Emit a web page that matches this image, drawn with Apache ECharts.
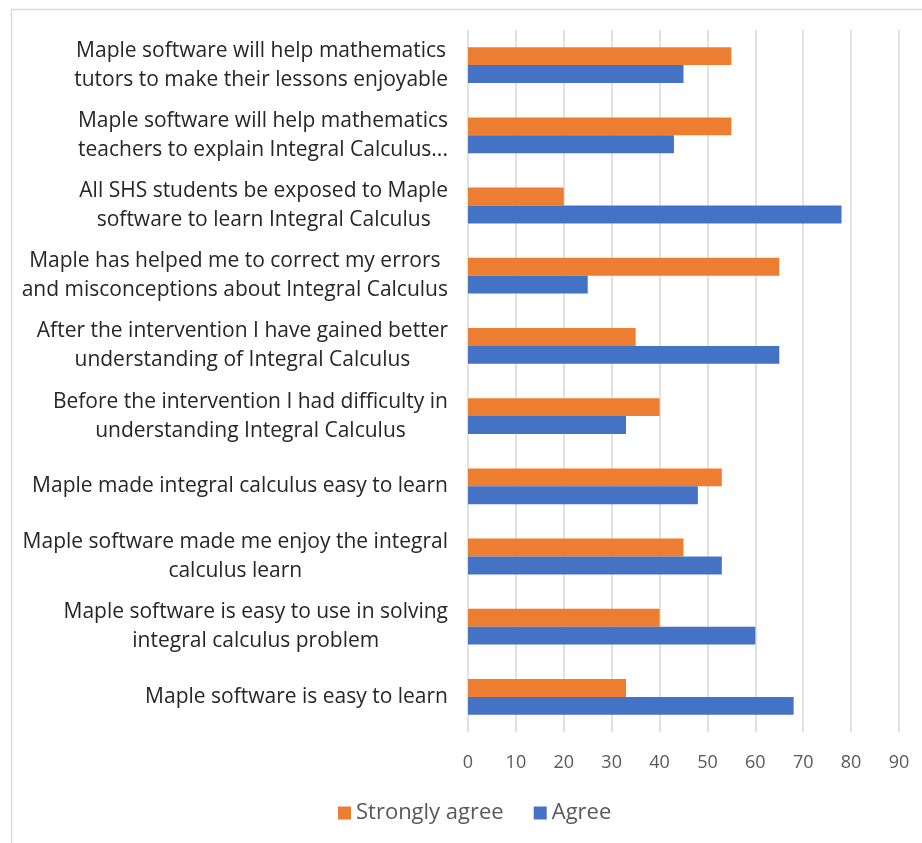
<!DOCTYPE html>
<html>
<head>
<meta charset="utf-8">
<script src="https://cdn.jsdelivr.net/npm/echarts@6/dist/echarts.min.js"></script>
<style>
html,body{margin:0;padding:0;background:#fff;}
#chart{width:922px;height:843px;}
</style>
</head>
<body>
<div id="chart"></div>
<script>
const categories = [
  "Maple software will help mathematics\ntutors to make their lessons enjoyable",
  "Maple software will help mathematics\nteachers to explain Integral Calculus...",
  "All SHS students be exposed to Maple\nsoftware to learn Integral Calculus",
  "Maple has helped me to correct my errors\nand misconceptions about Integral Calculus",
  "After the intervention I have gained better\nunderstanding of Integral Calculus",
  "Before the intervention I had difficulty in\nunderstanding Integral Calculus",
  "Maple made integral calculus easy to learn",
  "Maple software made me enjoy the integral\ncalculus learn",
  "Maple software is easy to use in solving\nintegral calculus problem",
  "Maple software is easy to learn"
];
const stronglyAgree = [55, 55, 20, 65, 35, 40, 53, 45, 40, 33];
const agree = [45, 43, 78, 25, 65, 33, 48, 53, 60, 68];
const seriesNames = ["Strongly agree", "Agree"];
const xTicks = { min: 0, max: 90, interval: 10 };

const FONT = "Open Sans";
const chart = echarts.init(document.getElementById('chart'), null, { renderer: 'canvas' });
chart.setOption({
  animation: false,
  backgroundColor: '#ffffff',
  graphic: [{
    type: 'rect', left: 9, top: 7, silent: true,
    shape: { width: 1000, height: 1000 },
    style: { fill: 'none', stroke: '#d9d9d9', lineWidth: 1.5 }
  }],
  grid: { left: 468, right: 23, top: 30, bottom: 111, containLabel: false },
  legend: {
    data: seriesNames,
    left: 333, top: 797,
    itemWidth: 13, itemHeight: 13, itemGap: 30,
    icon: 'rect',
    textStyle: { color: '#595959', fontSize: 22, fontFamily: FONT }
  },
  xAxis: {
    type: 'value', min: xTicks.min, max: xTicks.max, interval: xTicks.interval,
    axisLine: { show: false }, axisTick: { show: false },
    splitLine: { lineStyle: { color: '#d9d9d9', width: 1.5 } },
    axisLabel: { color: '#595959', fontSize: 18, fontFamily: FONT, margin: 22 }
  },
  yAxis: {
    type: 'category', data: categories, inverse: true,
    axisLine: { show: false }, axisTick: { show: false },
    axisLabel: {
      margin: 20,
      formatter: function (v) { return v.split('\n').map(s => '{c|' + s + '}').join('\n'); },
      rich: { c: { align: 'center', color: '#262626', fontSize: 21, fontFamily: FONT, lineHeight: 29 } },
      color: '#262626', fontSize: 21, fontFamily: FONT, lineHeight: 29
    }
  },
  series: [
    { name: seriesNames[0], type: 'bar', data: stronglyAgree, itemStyle: { color: '#ED7D31' }, barGap: '0%', barCategoryGap: '49%' },
    { name: seriesNames[1], type: 'bar', data: agree, itemStyle: { color: '#4472C4' }, barGap: '0%', barCategoryGap: '49%' }
  ]
});
</script>
</body>
</html>
